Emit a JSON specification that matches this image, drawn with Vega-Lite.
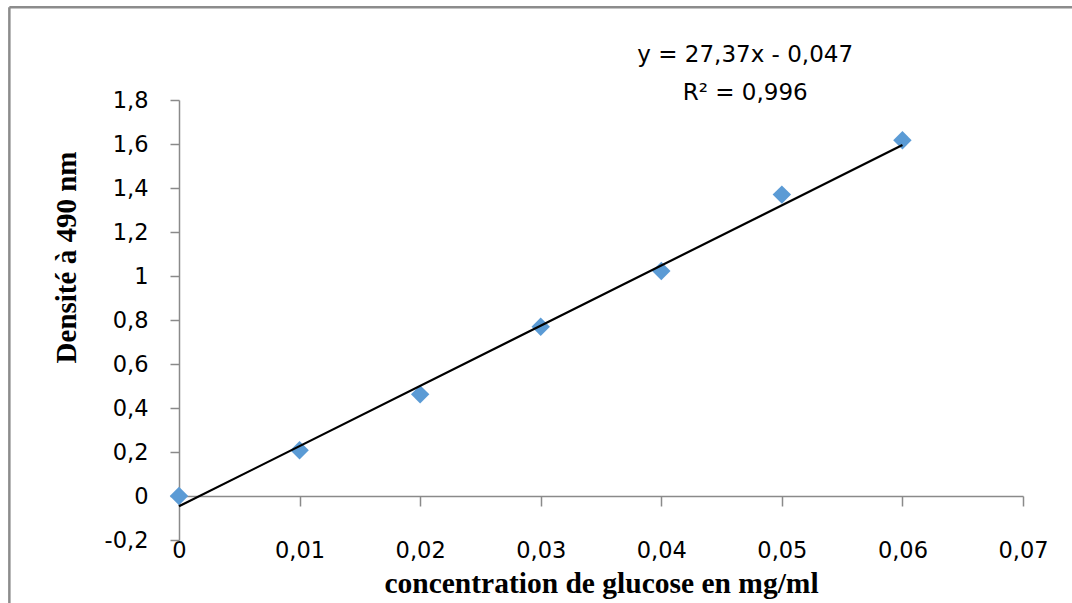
{
  "$schema": "https://vega.github.io/schema/vega-lite/v6.json",
  "width": 844,
  "height": 440,
  "autosize": {"type": "none"},
  "padding": {"left": 179, "top": 100, "right": 49, "bottom": 63},
  "background": "#ffffff",
  "config": {
    "view": {"stroke": null},
    "font": "DejaVu Sans"
  },
  "datasets": {
    "points": [
      {"concentration": 0.0, "densite": 0.0},
      {"concentration": 0.01, "densite": 0.208},
      {"concentration": 0.02, "densite": 0.462},
      {"concentration": 0.03, "densite": 0.769},
      {"concentration": 0.04, "densite": 1.023},
      {"concentration": 0.05, "densite": 1.37},
      {"concentration": 0.06, "densite": 1.617}
    ],
    "trend": [
      {"concentration": 0.0, "densite": -0.047},
      {"concentration": 0.06, "densite": 1.5952}
    ],
    "note": [
      {"label": "y = 27,37x - 0,047\nR² = 0,996"}
    ]
  },
  "layer": [
    {
      "data": {"values": [{}]},
      "mark": {"type": "rule", "color": "#8c8c8c", "strokeWidth": 2.5, "clip": false},
      "encoding": {
        "x": {"datum": -0.01407, "type": "quantitative", "scale": {"domain": [0, 0.07], "nice": false, "zero": false}},
        "x2": {"datum": 0.0745},
        "y": {"datum": 2.2214, "type": "quantitative"}
      }
    },
    {
      "data": {"values": [{}]},
      "mark": {"type": "rule", "color": "#8c8c8c", "strokeWidth": 2.5, "clip": false},
      "encoding": {
        "x": {"datum": -0.01407, "type": "quantitative"},
        "y": {"datum": 2.2214, "type": "quantitative"},
        "y2": {"datum": -0.5}
      }
    },
    {
      "data": {"name": "points"},
      "mark": {"type": "point", "shape": "diamond", "filled": true, "color": "#5B9BD5", "size": 340, "opacity": 1},
      "encoding": {
        "x": {
          "field": "concentration",
          "type": "quantitative",
          "scale": {"domain": [0, 0.07], "nice": false, "zero": false},
          "axis": {
            "values": [0, 0.01, 0.02, 0.03, 0.04, 0.05, 0.06, 0.07],
            "labelExpr": "replace(toString(datum.value), '.', ',')",
            "offset": -44,
            "grid": false,
            "domainColor": "#8a8a8a",
            "domainWidth": 1.5,
            "tickColor": "#8a8a8a",
            "tickWidth": 1.5,
            "tickSize": 10,
            "labelFont": "DejaVu Sans",
            "labelFontSize": 22.5,
            "labelColor": "#000000",
            "labelBaseline": "alphabetic",
            "labelPadding": 51,
            "labelFlush": false,
            "labelOverlap": false,
            "labelBound": false,
            "title": "concentration de glucose en mg/ml",
            "titleFont": "Liberation Serif",
            "titleFontSize": 29.5,
            "titleFontWeight": "bold",
            "titleColor": "#000000",
            "titleX": 422,
            "titleY": 96,
            "titleAlign": "center",
            "titleBaseline": "alphabetic"
          }
        },
        "y": {
          "field": "densite",
          "type": "quantitative",
          "scale": {"domain": [-0.2, 1.8], "nice": false, "zero": false},
          "axis": {
            "values": [-0.2, 0, 0.2, 0.4, 0.6, 0.8, 1, 1.2, 1.4, 1.6, 1.8],
            "labelExpr": "replace(toString(datum.value), '.', ',')",
            "grid": false,
            "domainColor": "#8a8a8a",
            "domainWidth": 1.5,
            "tickColor": "#8a8a8a",
            "tickWidth": 1.5,
            "tickSize": 9,
            "labelFont": "DejaVu Sans",
            "labelFontSize": 22.5,
            "labelColor": "#000000",
            "labelPadding": 22,
            "labelOverlap": false,
            "labelBound": false,
            "labelFlush": false,
            "title": "Densité à 490 nm",
            "titleFont": "Liberation Serif",
            "titleFontSize": 29,
            "titleFontWeight": "bold",
            "titleColor": "#000000",
            "titleAngle": 270,
            "titleX": -104,
            "titleY": 157,
            "titleAlign": "center",
            "titleBaseline": "alphabetic"
          }
        }
      }
    },
    {
      "data": {"name": "trend"},
      "mark": {"type": "line", "color": "#000000", "strokeWidth": 2.2},
      "encoding": {
        "x": {"field": "concentration", "type": "quantitative"},
        "y": {"field": "densite", "type": "quantitative"}
      }
    },
    {
      "data": {"name": "note"},
      "mark": {"type": "text", "lineBreak": "\n", "align": "center", "baseline": "alphabetic", "font": "DejaVu Sans", "fontSize": 23, "color": "#000000", "lineHeight": 37.5, "clip": false},
      "encoding": {
        "x": {"datum": 0.04696, "type": "quantitative"},
        "y": {"datum": 1.9727, "type": "quantitative"},
        "text": {"field": "label"}
      }
    }
  ]
}
